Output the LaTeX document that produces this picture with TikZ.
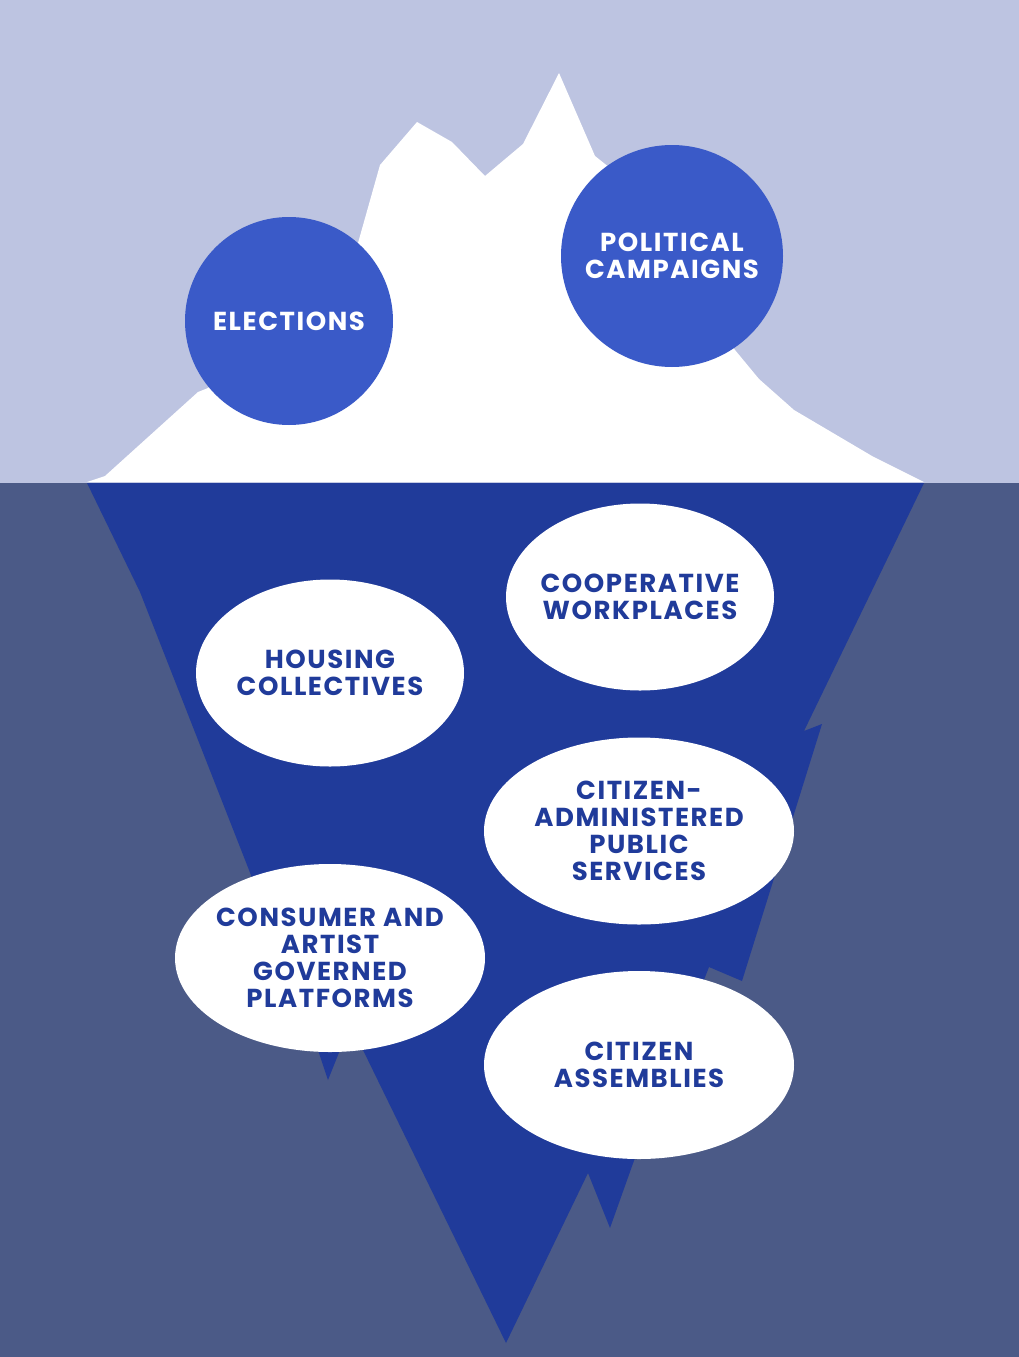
\documentclass[tikz,border=0pt]{standalone}
\usepackage{fontspec}
\setmainfont{Poppins}[LetterSpace=6]
\usetikzlibrary{shapes.geometric}
\definecolor{csky}{HTML}{BDC4E1}
\definecolor{csea}{HTML}{4B5A87}
\definecolor{cdeep}{HTML}{203B9A}
\definecolor{ctop}{HTML}{3A5AC8}
\tikzset{
  every picture/.style={font=\bfseries\fontsize{26}{27}\selectfont},
  tip/.style={circle, fill=ctop, text=white, align=center, inner sep=0pt},
  bubble/.style={ellipse, fill=white, text=cdeep, align=center, inner sep=-30pt},
}
\begin{document}
\begin{tikzpicture}[x=1pt, y=-1pt]
  \useasboundingbox (0,0) rectangle (1019,1357);
  % ---- sky and sea
  \fill[csky] (0,0) rectangle (1019,483);
  \fill[csea] (0,483) rectangle (1019,1357);

  % ---- iceberg above the water
  \fill[white] (87,482) -- (105,476) -- (198,392) -- (208,388) -- (358,243)
    -- (380,165) -- (417,122) -- (452,142) -- (485,176) -- (523,144)
    -- (559,73) -- (595,156) -- (610,168) -- (735,350) -- (759,379)
    -- (794,410) -- (872,456) -- (924,482) -- cycle;

  % ---- iceberg below the water
  \fill[cdeep] (87,483) -- (140,592) -- (249,870) -- (318,1050) -- (328,1080)
    -- (340,1050) -- (350,1030) -- (363,1050) -- (506,1343) -- (588,1173)
    -- (610,1228) -- (636,1155) -- (709,967) -- (742,981) -- (822,724)
    -- (804,731) -- (924,483) -- cycle;

  % ---- what is seen
  \node[tip, minimum size=208pt] (elect) at (289,321) {ELECTIONS};
  \node[tip, minimum size=222pt] (camp) at (672,256) {POLITICAL\\CAMPAIGNS};

  % ---- what is hidden
  \node[bubble, minimum width=268pt, minimum height=187pt] (coop) at (640,597) {COOPERATIVE\\WORKPLACES};
  \node[bubble, minimum width=268pt, minimum height=187pt] (house) at (330,673) {HOUSING\\COLLECTIVES};
  \node[bubble, minimum width=310pt, minimum height=187pt] (serv) at (639,831) {CITIZEN-\\ADMINISTERED\\PUBLIC\\SERVICES};
  \node[bubble, minimum width=310pt, minimum height=188pt] (plat) at (330,958) {CONSUMER AND\\ARTIST\\GOVERNED\\PLATFORMS};
  \node[bubble, minimum width=310pt, minimum height=188pt] (assem) at (639,1065) {CITIZEN\\ASSEMBLIES};
\end{tikzpicture}
\end{document}
